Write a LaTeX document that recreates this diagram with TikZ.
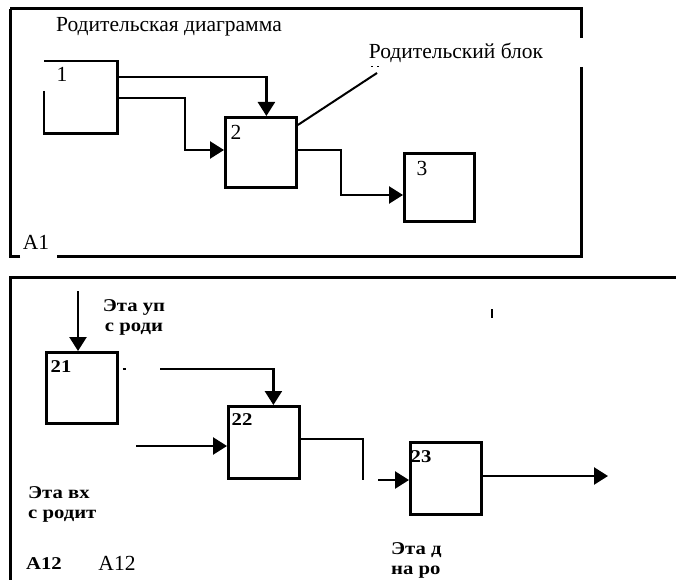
\documentclass[tikz,border=0pt]{standalone}
\usepackage{fontspec}
\setmainfont{Liberation Serif}
\newfontfamily\pixfont[FakeStretch=1.15]{Liberation Serif Bold}
\usetikzlibrary{arrows.meta,calc}
\begin{document}
\begin{tikzpicture}[x=1pt,y=-1pt,
  frame/.style={line width=3pt},
  box/.style={draw,line width=2.8pt,anchor=north west,inner sep=0pt,minimum width=71pt,minimum height=70pt},
  conn/.style={line width=2.4pt},
  arr/.style={conn,-{Triangle[length=14pt,width=17pt]}},
  reg/.style={inner sep=0pt,font=\fontsize{21.5}{24}\selectfont},
  pix/.style={inner sep=0pt,font=\fontsize{18}{20}\pixfont},
  pixnum/.style={inner sep=0pt,font=\fontsize{18}{20}\pixfont}]
\useasboundingbox (0,0) rectangle (676,580);
% ---- top (parent) diagram ----
\draw[frame] (10,9) -- (581,9) -- (581,38);
\draw[frame] (581,67) -- (581,256) -- (57,256);
\draw[frame] (20,256) -- (10,256) -- (10,9);
\node[reg] (tparent) at (169,27) {Родительская диаграмма};
\node[reg] (tblock) at (456,53) {Родительский блок};
\node[reg] (ta1) at (36,242) {A1};
% box 1 with a gap in its left edge
\node[box,draw=none] (b1) at (44,61) {};
\draw[line width=2.8pt] ([yshift=-30pt]b1.north west) -- (b1.south west) -- (b1.south east) -- (b1.north east) -- ([xshift=36pt]b1.north west);
\draw[line width=1.6pt] ([xshift=36pt]b1.north west) -- (b1.north west);
\node[reg] (n1) at (62,74) {1};
\node[box] (b2) at (224,116) {};
\node[reg] (n2) at (236,132) {2};
\node[box,minimum width=70pt,minimum height=68pt] (b3) at (403,152) {};
\node[reg] (n3) at (422,168) {3};
\draw[arr] ([yshift=-16pt]b1.north east) -| ([xshift=5.5pt]b2.north);
\draw[arr] ([yshift=-37pt]b1.north east) -- ++(67,0) |- ([yshift=-34pt]b2.north west);
\draw[arr] ([yshift=-34pt]b2.north east) -- ++(43,0) |- ([yshift=-43pt]b3.north west);
\coordinate (pb) at (377,73);
\draw[line width=2pt] ([yshift=-9pt]b2.north east) -- (pb);
\draw[line width=1pt,dash pattern=on 2pt off 4pt] (371,67) -- (380,67);
% ---- bottom (child) diagram ----
\draw[frame] (676,277) -- (10,277) -- (10,580);
\node[box,minimum height=71pt] (b21) at (45,351) {};
\node[pixnum] (n21) at (61,367) {21};
\node[box,minimum height=72pt] (b22) at (227,405) {};
\node[pixnum] (n22) at (242,420) {22};
\node[box,minimum height=72pt] (b23) at (409,441) {};
\node[pixnum] (n23) at (421,457) {23};
\coordinate (c21) at (78,291);
\draw[arr] (c21) -- (c21 |- b21.north);
\draw[conn] ([xshift=4pt,yshift=-18pt]b21.north east) -- ++(3,0);
\coordinate (c22) at (160,369);
\draw[arr] (c22) -| ([xshift=9.5pt]b22.north);
\coordinate (c22b) at (136,446);
\draw[arr] (c22b) -- (c22b -| b22.west);
\coordinate (c23a) at (363,480);
\draw[conn] ([yshift=-34pt]b22.north east) -| (c23a);
\coordinate (c23b) at (378,480);
\draw[arr] (c23b) -- (c23b -| b23.west);
\coordinate (c23o) at (608,476);
\draw[arr] (c23o -| b23.east) -- (c23o);
\draw[line width=2.5pt] (492,309) -- (492,318);
\node[pix,align=center] (tctl) at (134,317) {Эта уп\\с роди};
\node[pix,align=left,anchor=west] (tin) at (28,504) {Эта вх\\с родит};
\node[pix,align=left,anchor=west] (tout) at (391,560) {Эта д\\на ро};
\node[pixnum] (ta12b) at (44,564) {A12};
\node[reg] (ta12) at (117,563) {A12};
\end{tikzpicture}
\end{document}
